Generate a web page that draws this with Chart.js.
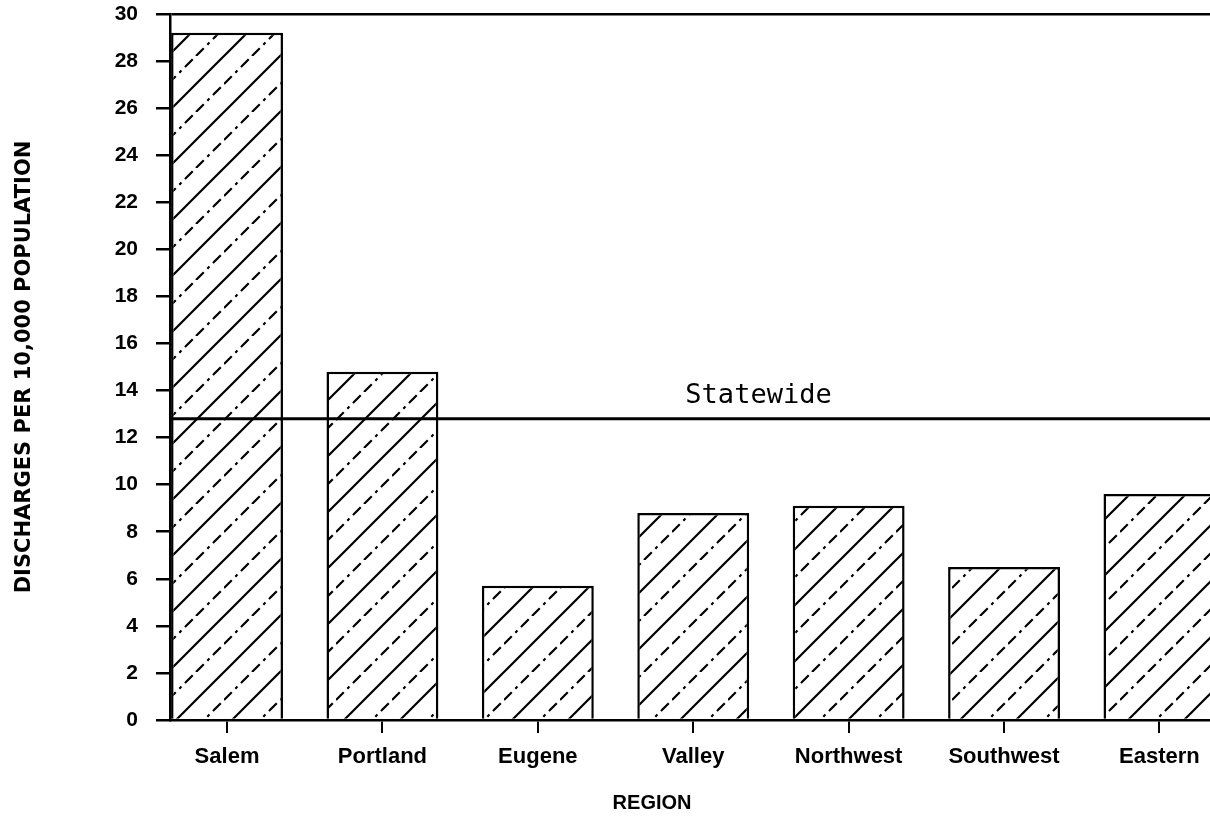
<!DOCTYPE html>
<html>
<head>
<meta charset="utf-8">
<script src="https://cdn.jsdelivr.net/npm/chart.js@4"></script>
<style>
    html, body { margin: 0; padding: 0; background: #fff; overflow: hidden; }
</style>
</head>
<body>
<canvas id="dischargeChart" width="1260" height="816"></canvas>
<script>
const regions = ['Salem', 'Portland', 'Eugene', 'Valley', 'Northwest', 'Southwest', 'Eastern'];
const discharges = [29.2, 14.8, 5.7, 8.8, 9.1, 6.5, 9.6];
const statewideRate = 12.8;
const yTickValues = [0, 2, 4, 6, 8, 10, 12, 14, 16, 18, 20, 22, 24, 26, 28, 30];

// diagonal hatch, one solid line and one dash-dot line per tile
function makeHatch() {
    const s = 56;
    const c = document.createElement('canvas');
    c.width = s;
    c.height = s;
    const g = c.getContext('2d');
    g.fillStyle = '#fff';
    g.fillRect(0, 0, s, s);
    g.strokeStyle = '#000';
    g.lineWidth = 2.2;
    g.beginPath();
    g.moveTo(-2, s + 2);
    g.lineTo(s + 2, -2);
    g.moveTo(-2, 2);
    g.lineTo(2, -2);
    g.moveTo(s - 2, s + 2);
    g.lineTo(s + 2, s - 2);
    g.stroke();
    g.setLineDash([11, 5, 3, 5]);
    g.beginPath();
    g.moveTo(0, s / 2);
    g.lineTo(s / 2, 0);
    g.moveTo(s / 2, s);
    g.lineTo(s, s / 2);
    g.stroke();
    return g.createPattern(c, 'repeat');
}

const statewidePlugin = {
    id: 'statewide',
    afterDatasetsDraw(chart) {
        const { ctx, chartArea, scales } = chart;
        const y = scales.y.getPixelForValue(statewideRate);
        ctx.save();
        ctx.strokeStyle = '#000';
        ctx.lineWidth = 3;
        ctx.beginPath();
        ctx.moveTo(chartArea.left, y);
        ctx.lineTo(chartArea.right, y);
        ctx.stroke();
        ctx.fillStyle = '#000';
        ctx.font = '27px "DejaVu Sans Mono"';
        ctx.textAlign = 'center';
        ctx.textBaseline = 'alphabetic';
        ctx.fillText('Statewide', scales.x.getPixelForValue(3.42), y - 16);

        ctx.font = 'bold 20px "Liberation Sans"';
        ctx.textBaseline = 'middle';
        ctx.fillText('REGION', scales.x.getPixelForValue(2.735), chart.height - 13);
        ctx.restore();
    }
};

const ctx = document.getElementById('dischargeChart').getContext('2d');

const dischargeChart = new Chart(ctx, {
    type: 'bar',
    data: {
        datasets: [{
            data: regions.map((r, i) => ({ x: i, y: discharges[i] })),
            backgroundColor: makeHatch(),
            borderColor: '#000',
            borderWidth: 2.5,
            categoryPercentage: 1,
            barPercentage: 0.72
        }]
    },
    options: {
        responsive: false,
        animation: false,
        layout: {
            padding: { top: 14, left: 0, right: 0, bottom: 0 }
        },
        scales: {
            x: {
                type: 'linear',
                offset: false,
                min: -0.367,
                max: 6.647,
                afterBuildTicks: s => { s.ticks = regions.map((r, i) => ({ value: i })); },
                afterFit: s => { s.height = 96; s.paddingLeft = 0; s.paddingRight = 0; },
                border: { display: true, color: '#000', width: 2.5 },
                grid: {
                    offset: false,
                    drawOnChartArea: false,
                    tickLength: 13,
                    tickColor: '#000',
                    lineWidth: 2
                },
                ticks: {
                    callback: v => regions[v],
                    color: '#000',
                    padding: 11,
                    maxRotation: 0,
                    font: { family: 'Liberation Sans', size: 22, weight: 'bold' }
                }
            },
            y: {
                min: 0,
                max: 30,
                afterBuildTicks: s => { s.ticks = yTickValues.map(v => ({ value: v })); },
                afterFit: s => { s.width = 170; s.paddingTop = 0; s.paddingBottom = 0; },
                border: { display: true, color: '#000', width: 2.5 },
                grid: {
                    color: c => (c.tick && c.tick.value === 30 ? '#000' : 'rgba(0,0,0,0)'),
                    tickColor: '#000',
                    tickLength: 14,
                    lineWidth: 2.5
                },
                ticks: {
                    color: '#000',
                    padding: 18,
                    font: { family: 'Liberation Sans', size: 21, weight: 'bold' }
                },
                title: {
                    display: true,
                    text: 'DISCHARGES PER 10,000 POPULATION',
                    color: '#000',
                    padding: { top: 12, bottom: 0 },
                    font: { family: 'DejaVu Sans', size: 21, weight: 'bold' }
                }
            }
        },
        plugins: {
            legend: { display: false },
            tooltip: { enabled: false }
        }
    },
    plugins: [statewidePlugin]
});
</script>
</body>
</html>
